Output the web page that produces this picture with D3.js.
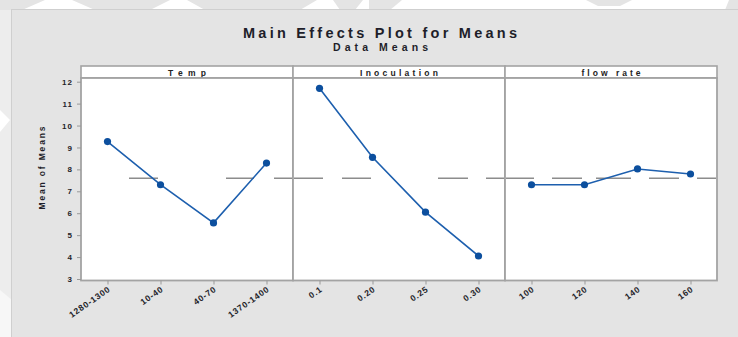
<!DOCTYPE html>
<html><head><meta charset="utf-8">
<script src="https://cdn.jsdelivr.net/npm/d3@7"></script>
<style>
html,body{margin:0;padding:0;background:#fff;}
svg{display:block;font-family:"Liberation Sans",Arial,sans-serif;}
</style></head>
<body>
<svg id="c" width="738" height="337"></svg>
<script>
// ---- data ----
const factors = ["Temp", "Inoculation", "flow rate"];
const tempLevels = ["1280-1300", "10-40", "40-70", "1370-1400"];
const tempMeans = [9.27, 7.30, 5.56, 8.29];
const inocLevels = ["0.1", "0.20", "0.25", "0.30"];
const inocMeans = [11.70, 8.55, 6.05, 4.05];
const flowLevels = ["100", "120", "140", "160"];
const flowMeans = [7.30, 7.30, 8.02, 7.79];
const yTicks = [3, 4, 5, 6, 7, 8, 9, 10, 11, 12];
const title = "Main Effects Plot for Means";
const subtitle = "Data Means";
const yLabel = "Mean of Means";

const panels = [
  {name: factors[0], levels: tempLevels, means: tempMeans, dash: "0,47,29,68,28,20,30,60", stripLen: 38},
  {name: factors[1], levels: inocLevels, means: inocMeans, dash: "29,19,29,67,30,18,30,60", stripLen: 78},
  {name: factors[2], levels: flowLevels, means: flowMeans, dash: "28,18,30,14,35,18,30,18,30", stripLen: 59}
];
const grand = d3.mean([...tempMeans, ...inocMeans, ...flowMeans]);

const svg = d3.select("#c");

// background / watermark-ish shapes
svg.append("rect").attr("x",0).attr("y",0).attr("width",738).attr("height",337).attr("fill","#ffffff");
svg.append("rect").attr("x",0).attr("y",10).attr("width",12).attr("height",327).attr("fill","#ededed");
const wm = [
  [[0,0],[45,0],[22,10],[0,10]],
  [[72,0],[170,0],[150,10],[95,10]],
  [[187,0],[317,0],[300,10],[205,10]],
  [[333,0],[363,0],[355,10],[340,10]],
  [[369,0],[402,0],[390,10],[369,10]],
  [[586,0],[632,0],[620,6],[598,6]],
  [[729,0],[738,0],[738,10],[725,10]]
];
svg.selectAll("polygon.wm").data(wm).join("polygon").attr("class","wm")
  .attr("points", d => d.map(p => p.join(",")).join(" ")).attr("fill","#e4e4e4");
svg.append("polygon").attr("points","0,110 10,120 0,132").attr("fill","#ffffff");
svg.append("polygon").attr("points","0,290 12,300 12,337 0,337").attr("fill","#f7f7f7");

// main grey panel
svg.append("rect").attr("x",11.5).attr("y",9.5).attr("width",727).attr("height",328)
  .attr("fill","#e4e4e4").attr("stroke","#cfcfcf").attr("stroke-width",1);

// titles
svg.append("text").attr("x",380).attr("y",37.5).attr("text-anchor","middle")
  .attr("font-size",14.5).attr("font-weight","bold").attr("fill","#1e1e2a").attr("textLength",274).attr("lengthAdjust","spacing")
  .text(title);
svg.append("text").attr("x",380.5).attr("y",50.5).attr("text-anchor","middle")
  .attr("font-size",10.5).attr("font-weight","bold").attr("fill","#1e1e2a").attr("textLength",95).attr("lengthAdjust","spacing")
  .text(subtitle);

// scales
const plotTop = 78, plotBottom = 280.5, stripTop = 66;
const px = d3.scaleBand().domain(factors).range([81, 717]).paddingInner(0).paddingOuter(0);
const y = d3.scaleLinear().domain([3, 12]).range([279, 81.7]);

panels.forEach(p => {
  const x0 = px(p.name), x1 = x0 + px.bandwidth();
  const g = svg.append("g");
  // strip
  g.append("rect").attr("x",x0).attr("y",stripTop).attr("width",x1-x0).attr("height",plotTop-stripTop)
    .attr("fill","#ffffff").attr("stroke","#a3a3a3").attr("stroke-width",1.6);
  g.append("text").attr("x",(x0+x1)/2).attr("y",75.5).attr("text-anchor","middle")
    .attr("font-size",8.5).attr("font-weight","bold").attr("fill","#222")
    .attr("textLength",p.stripLen).attr("lengthAdjust","spacing").text(p.name);
  // plot area
  g.append("rect").attr("x",x0).attr("y",plotTop).attr("width",x1-x0).attr("height",plotBottom-plotTop)
    .attr("fill","#ffffff").attr("stroke","#a3a3a3").attr("stroke-width",1.8);
  // reference line
  g.append("line").attr("x1",x0+1).attr("x2",x1-1).attr("y1",y(grand)).attr("y2",y(grand))
    .attr("stroke","#8c8c8c").attr("stroke-width",1.5).attr("stroke-dasharray",p.dash);
  // x scale
  const x = d3.scalePoint().domain(p.levels).range([x0, x1]).padding(0.5);
  const xa = g.append("g").attr("transform",`translate(0,${plotBottom})`)
    .call(d3.axisBottom(x).tickSize(4).tickSizeOuter(0).tickPadding(2));
  xa.select(".domain").remove();
  xa.selectAll(".tick line").attr("stroke","#999").attr("stroke-width",1);
  xa.selectAll(".tick text")
    .attr("font-size",8.5).attr("font-weight","bold").attr("fill","#1f1f2a")
    .attr("letter-spacing","0.8px")
    .attr("text-anchor","end").attr("dy",0).attr("y",0)
    .attr("transform","translate(3,10) rotate(-35)");
  // line + points
  const pts = p.levels.map((l,i) => [x(l), y(p.means[i])]);
  g.append("path").attr("d", d3.line()(pts)).attr("fill","none")
    .attr("stroke","#1d5fae").attr("stroke-width",1.6);
  g.selectAll("circle").data(pts).join("circle")
    .attr("cx",d=>d[0]).attr("cy",d=>d[1]).attr("r",3.6).attr("fill","#0c4f9e");
});

// y axis
const ya = svg.append("g").attr("transform",`translate(${px(factors[0])},0)`)
  .call(d3.axisLeft(y).tickValues(yTicks).tickSize(4).tickSizeOuter(0).tickPadding(4));
ya.select(".domain").remove();
ya.selectAll(".tick line").attr("stroke","#999");
ya.selectAll(".tick text").attr("font-size",8).attr("font-weight","bold").attr("fill","#1f1f2a")
  .attr("letter-spacing","1px");

svg.append("text").attr("transform","translate(45,168) rotate(-90)").attr("text-anchor","middle")
  .attr("font-size",8.5).attr("font-weight","bold").attr("fill","#1f1f2a")
  .attr("textLength",83).attr("lengthAdjust","spacing").text(yLabel);
</script>
</body></html>
